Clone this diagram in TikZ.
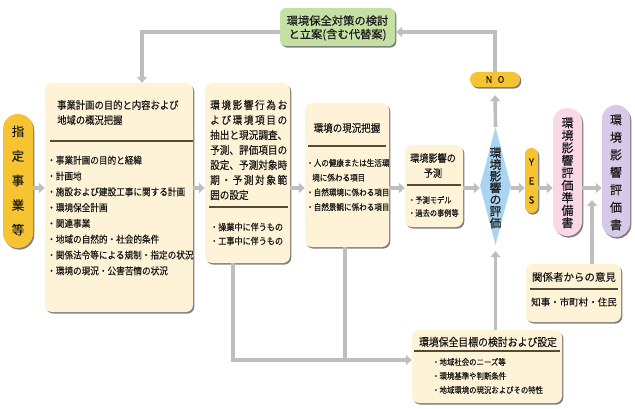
\documentclass[tikz,border=0pt]{standalone}
\usepackage{fontspec}
\setmainfont[FakeBold=0.35]{Noto Sans CJK JP}
\newfontfamily\jpn[FakeStretch=0.88,FakeBold=0.35]{Noto Sans CJK JP}
\usetikzlibrary{shapes.geometric,shadows,arrows.meta}
\definecolor{cream}{HTML}{FEF3D6}
\definecolor{goldc}{HTML}{F6C433}
\definecolor{greenc}{HTML}{C4E0A2}
\definecolor{bluec}{HTML}{A9D4F2}
\definecolor{pinkc}{HTML}{F9D7E6}
\definecolor{purpc}{HTML}{D7CAE8}
\definecolor{lineg}{HTML}{BEBEBE}
\definecolor{sepc}{HTML}{554A36}
\definecolor{txtc}{HTML}{1A1A1A}
\def\sprd#1{\sprdA#1\relax}
\def\sprdA#1#2{#1\ifx\relax#2\else\hfil\expandafter\sprdA\expandafter#2\fi}
\newcommand\spr[1]{\makebox[77pt][s]{\sprd{#1}}}
\begin{document}
\begin{tikzpicture}[x=1pt,y=-1pt,
  shadowed/.style={drop shadow={shadow xshift=1.3pt,shadow yshift=-1.6pt,fill=black,opacity=.5}},
  box/.style={fill=cream, rounded corners=7pt, inner sep=0pt, shadowed},
  conn/.style={draw=lineg, line width=3.6pt},
  arr/.style={conn, -{Triangle[length=6pt,width=10pt]}},
  sep/.style={draw=sepc, line width=1.3pt},
  txt/.style={inner sep=0pt, text=txtc},
  vtxt/.style={txt, align=center},
]
\fill[white] (0,0) rectangle (635,409);
\useasboundingbox (0,0) rectangle (635,409);

% ---------- shapes ----------
\node[box, fill=greenc, rounded corners=6pt, minimum width=115pt, minimum height=38pt] (gr) at (337.5,27) {};
\node[box, fill=goldc, rounded corners=14.9pt, minimum width=30pt, minimum height=134pt] (p0) at (18,181) {};
\node[box, minimum width=148pt, minimum height=229pt] (b1) at (119,197.5) {};
\node[box, minimum width=85pt, minimum height=180pt] (b2) at (247.5,173) {};
\node[box, minimum width=84pt, minimum height=144pt] (b3) at (347,175) {};
\node[box, minimum width=58pt, minimum height=82pt] (b4) at (434,186) {};
\node[diamond, fill=bluec, inner sep=0pt, minimum width=31pt, minimum height=118pt] (dia) at (495.5,186) {};
\node[box, fill=goldc, rounded corners=7.4pt, minimum width=50pt, minimum height=15pt] (no) at (495,79.5) {};
\node[box, fill=goldc, rounded corners=6.4pt, minimum width=13pt, minimum height=65pt] (yes) at (531.5,180.5) {};
\node[box, fill=pinkc, rounded corners=14.4pt, minimum width=29pt, minimum height=128pt] (pk) at (567.5,172) {};
\node[box, fill=purpc, rounded corners=13.9pt, minimum width=28pt, minimum height=132pt] (pu) at (616,171) {};
\node[box, minimum width=95pt, minimum height=58pt] (kb) at (573.5,293) {};
\node[box, minimum width=150pt, minimum height=73pt] (bb) at (487,366.5) {};

% ---------- separators ----------
\draw[sep] (b1.west |- 0,141) ++(5,0) coordinate (s1a) -- (s1a -| b1.east) ++(-8,0) coordinate (s1b);
\draw[sep] (209,207) coordinate (s2a) -- (288,207) coordinate (s2b);
\draw[sep] (308,146) coordinate (s3a) -- (386,146) coordinate (s3b);
\draw[sep] (407,185) coordinate (s4a) -- (461,185) coordinate (s4b);
\draw[sepc, line width=2.6pt] (530,289) coordinate (s5a) -- (618,289) coordinate (s5b);
\draw[sep] (414,351) coordinate (s6a) -- (560,351) coordinate (s6b);

% ---------- texts ----------
\node[vtxt, font=\fontsize{11.3}{13.5}\selectfont] (grt) at (337.5,28) {環境保全対策の検討\\と立案(含む代替案)};
\node[vtxt, font=\fontsize{12.5}{24.6}\selectfont] (p0t) at (18,180.5) {指\\定\\事\\業\\等};
\node[txt, align=left, anchor=west, font=\jpn\fontsize{10.6}{15}\selectfont] (b1t) at (57,112.5) {事業計画の目的と内容および\\地域の概況把握};
\node[txt, align=left, anchor=west, font=\jpn\fontsize{9.8}{15.8}\selectfont] (b1l) at (47,215.5) {・事業計画の目的と経緯\\・計画地\\・施設および建設工事に関する計画\\・環境保全計画\\・関連事業\\・地域の自然的・社会的条件\\・関係法令等による規制・指定の状況\\・環境の現況・公害苦情の状況};
\node[txt, align=left, anchor=west, font=\jpn\fontsize{10.9}{15}\selectfont] (b2t) at (210,150) {\spr{環境影響行為お}\\\spr{よび環境項目の}\\\spr{抽出と現況調査、}\\\spr{予測、評価項目の}\\\spr{設定、予測対象時}\\\spr{期・予測対象範}\\囲の設定};
\node[txt, align=left, anchor=west, font=\jpn\fontsize{9.2}{14}\selectfont] (b2l) at (210,234) {・操業中に伴うもの\\・工事中に伴うもの};
\node[txt, font=\jpn\fontsize{10.8}{14}\selectfont] (b3t) at (347,128) {環境の現況把握};
\node[txt, align=left, anchor=west, font=\jpn\fontsize{8.6}{14.7}\selectfont] (b3l) at (306,185) {・人の健康または生活環\\\hspace{0.7em}境に係わる項目\\・自然環境に係わる項目\\・自然景観に係わる項目};
\node[vtxt, font=\jpn\fontsize{10.4}{15}\selectfont] (b4t) at (433,165.5) {環境影響の\\予測};
\node[txt, align=left, anchor=west, font=\jpn\fontsize{8.2}{13}\selectfont] (b4l) at (408,206.5) {・予測モデル\\・過去の事例等};
\node[vtxt, font=\fontsize{11.8}{11.7}\selectfont] (diat) at (495.5,188) {環\\境\\影\\響\\の\\評\\価};
\node[txt, font=\fontsize{9}{10}\selectfont] (not) at (495,79.5) {N\hspace{0.6em}O};
\node[vtxt, font=\fontsize{9.8}{19}\selectfont] (yest) at (531.5,181) {Y\\E\\S};
\node[vtxt, font=\fontsize{12}{12.5}\selectfont] (pkt) at (567.5,173) {環\\境\\影\\響\\評\\価\\準\\備\\書};
\node[vtxt, font=\fontsize{12}{17.5}\selectfont] (put) at (616,172.5) {環\\境\\影\\響\\評\\価\\書};
\node[txt, font=\fontsize{10.5}{12}\selectfont] (kbt) at (574,277) {関係者からの意見};
\node[txt, font=\fontsize{9.5}{12}\selectfont] (kbl) at (574,302) {知事・市町村・住民};
\node[txt, font=\jpn\fontsize{11.2}{13}\selectfont] (bbt) at (488,342) {環境保全目標の検討および設定};
\node[txt, align=left, anchor=west, font=\jpn\fontsize{8.4}{14}\selectfont] (bbl) at (432,376) {・地域社会のニーズ等\\・環境基準や判断条件\\・地域環境の現況およびその特性};

% ---------- connectors ----------
\coordinate (ym) at (0,188);
\draw[arr] (p0.east |- ym) -- (b1.west |- ym);
\draw[arr] (b1.east |- ym) -- (b2.west |- ym);
\draw[arr] (b2.east |- ym) -- (b3.west |- ym);
\draw[arr] (b3.east |- ym) -- (b4.west |- ym);
\draw[arr] (b4.east |- ym) -- (dia.west |- ym);
\draw[arr] (dia.east |- ym) -- (yes.west |- ym);
\draw[arr] (yes.east |- ym) -- (pk.west |- ym);
\draw[arr] (pk.east |- ym) -- (pu.west |- ym);

\draw[arr, shorten >=8pt] (dia.north) -- (no.south);
\coordinate (t2) at (495,32);
\draw[arr, shorten >=1pt] (no.north) -- (t2) -- (gr.east |- t2);
\coordinate (t1) at (142,32);
\draw[arr] (gr.west |- t1) -- (t1) -- (b1.north -| t1);

\coordinate (kx) at (592,200);
\draw[arr] (kb.north -| kx) -- (kx);

\coordinate (c1) at (233,360);
\coordinate (c2) at (345,361.8);
\draw[arr] (b2.south -| c1) -- (c1) -- (bb.west |- c1);
\draw[conn] (b3.south -| c2) -- (c2);
\draw[arr, shorten >=6pt] (bb.north -| dia.south) -- (dia.south);
\end{tikzpicture}
\end{document}
